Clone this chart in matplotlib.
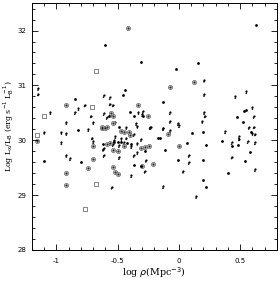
"""X-ray to optical luminosity ratio against local galaxy density."""

import matplotlib
matplotlib.use("Agg")
import matplotlib.pyplot as plt
from matplotlib.path import Path
from matplotlib.ticker import MultipleLocator

# detections (filled dots)
dot_x = [-0.60, -0.31, 0.63, -0.025, 0.156, -0.13, -0.443, -0.459, -0.852, 0.55,
         0.53, 0.475, 0.52, -0.295, 0.107, 0.197, 0.59, 0.066, 0.22, 0.35,
         0.43, 0.48, -0.115, 0.58, -0.008, 0.197, 0.54, 0.40, 0.197, 0.22,
         -0.31, -0.28, -0.37, -1.10, -0.80, -0.82, -0.57, -0.40, -0.37, -0.49,
         -0.17, -0.155, -0.62, -0.39, -0.53, -0.50, -0.47, -0.42]
dot_y = [31.73, 31.42, 32.11, 31.29, 31.40, 30.69, 30.91, 30.82, 30.75, 30.55,
         30.53, 30.42, 30.33, 30.44, 30.13, 30.15, 30.15, 29.95, 29.91, 29.98,
         29.89, 29.91, 29.82, 29.78, 29.64, 29.64, 29.62, 29.40, 29.27, 29.15,
         29.53, 29.80, 29.55, 29.62, 29.60, 30.18, 30.45, 30.51, 30.45, 30.24,
         30.05, 30.05, 29.94, 29.93, 29.97, 29.97, 29.97, 29.95]

# upper limits (dot with downward arrow)
lim_x = [-1.15, -1.15, 0.205, 0.205, 0.46, 0.55, 0.60, 0.61, 0.205, 0.21,
         -0.074, -0.295, -0.074, 0.0, 0.19, -0.24, -0.13, -0.074, 0.377, 0.49,
         0.49, 0.57, 0.61, 0.60, 0.62, 0.56, 0.62, 0.43, 0.08, 0.08,
         0.033, 0.43, 0.62, 0.14, -0.13, -0.27, -0.28, -0.54, -0.49, -0.62,
         -0.615, -0.49, -0.34, -0.37, -0.39, -0.55, -0.96, -0.70, -0.615, -0.92,
         -0.89, -1.10, -1.05, -0.92, -0.96, -0.92, -0.85, -0.82, -0.77, -0.72,
         -0.74, -0.71, -0.70, -0.615, -0.615, -0.566, -0.566, -0.54, -0.33, -0.30,
         -0.59, -0.52, -0.35, -0.34, -0.23, -0.43, -0.37, -0.13, -0.08, -0.008,
         -0.52, -0.47, -0.43, -0.53, -0.34, -0.31, -0.45, -0.39]
lim_y = [30.95, 30.85, 31.10, 30.84, 30.80, 30.89, 30.60, 30.44, 30.51, 30.45,
         30.51, 30.53, 30.35, 30.27, 30.35, 30.24, 30.22, 30.18, 30.16, 30.07,
         30.03, 30.24, 30.25, 30.13, 30.12, 29.98, 29.96, 29.96, 29.73, 29.60,
         29.44, 29.70, 29.47, 28.98, 29.16, 29.64, 29.44, 29.93, 29.91, 29.84,
         29.73, 29.69, 29.78, 29.73, 29.36, 29.15, 29.96, 29.98, 29.85, 29.73,
         29.67, 30.15, 30.51, 30.33, 30.15, 30.13, 30.51, 30.58, 30.65, 30.45,
         30.20, 30.05, 30.33, 30.82, 30.49, 30.78, 30.67, 30.65, 30.51, 30.47,
         30.42, 30.33, 30.31, 30.26, 30.24, 30.24, 30.11, 30.22, 30.13, 30.31,
         30.07, 30.04, 30.05, 30.00, 29.95, 30.02, 29.96, 29.89]

# circled points
circ_x = [-0.418, 0.12, -0.074, -0.25, 0.0, -0.21, -0.54, -0.50, -0.31, -0.246,
          -0.30, -0.54, -0.52, -0.50, -1.16, -0.70, -0.70, -0.74, -0.92, -0.92,
          -0.92, -0.63, -0.60, -0.33, -0.54, -0.555, -0.54, -0.63, -0.59, -0.475,
          -0.45, -0.41, -0.09, -0.56, -0.59, -0.45, -0.28, -0.40]
circ_y = [32.04, 31.07, 30.98, 30.45, 29.89, 29.56, 29.82, 29.80, 29.85, 29.89,
          29.53, 29.51, 29.42, 29.38, 29.98, 29.89, 29.65, 29.49, 29.40, 29.18,
          30.64, 30.22, 30.22, 30.65, 30.45, 30.49, 30.31, 30.24, 30.24, 30.16,
          30.15, 30.15, 30.11, 29.95, 29.94, 29.89, 29.87, 30.09]

# open squares
sq_x = [-0.68, -1.10, -0.71, -1.16, -0.68, -0.77]
sq_y = [31.27, 30.45, 30.60, 30.10, 29.20, 28.75]

# arrow marker: line from the point downwards with a small head
arrow = Path([(0, 0), (0, -1), (-0.35, -0.6), (0, -1), (0.35, -0.6)],
             [Path.MOVETO, Path.LINETO, Path.MOVETO, Path.LINETO, Path.LINETO])

fig = plt.figure(figsize=(2.8, 2.85), dpi=100)
ax = fig.add_axes([0.114, 0.123, 0.875, 0.866])

ax.scatter(lim_x, lim_y, marker=arrow, s=12, facecolors="none",
           edgecolors="#222222", linewidths=0.5)
ax.scatter(lim_x, lim_y, s=2.5, c="black", linewidths=0)
ax.scatter(circ_x, circ_y, s=9, facecolors="#c4c4c4", edgecolors="#666666",
           linewidths=0.5)
ax.scatter(circ_x, circ_y, s=2, c="#222222", linewidths=0)
ax.scatter(dot_x, dot_y, s=4, c="black", linewidths=0)
ax.scatter(sq_x, sq_y, marker="s", s=7, facecolors="white",
           edgecolors="#555555", linewidths=0.5)

ax.set_xlim(-1.2, 0.8)
ax.set_ylim(28, 32.5)
ax.set_xticks([-1, -0.5, 0, 0.5])
ax.set_xticklabels(["-1", "-0.5", "0", "0.5"])
ax.set_yticks([28, 29, 30, 31, 32])
ax.xaxis.set_minor_locator(MultipleLocator(0.1))
ax.yaxis.set_minor_locator(MultipleLocator(0.2))
ax.tick_params(which="both", direction="in", top=True, right=True,
               labelsize=5, width=0.6)
ax.tick_params(axis="x", pad=6)
ax.tick_params(axis="y", pad=4)
ax.tick_params(which="major", length=4)
ax.tick_params(which="minor", length=2)
for sp in ax.spines.values():
    sp.set_linewidth(0.7)

ax.set_xlabel(r"log $\rho$(Mpc$^{-3}$)", family="DejaVu Serif", fontsize=6.8,
              labelpad=1)
ax.set_ylabel(r"Log L$_{\rm x}$/L$_{\rm B}$ (erg s$^{-1}$ L$_{\rm B}^{-1}$)",
              family="DejaVu Serif", fontsize=5.6, labelpad=1)

fig.savefig("out.png", dpi=100)
